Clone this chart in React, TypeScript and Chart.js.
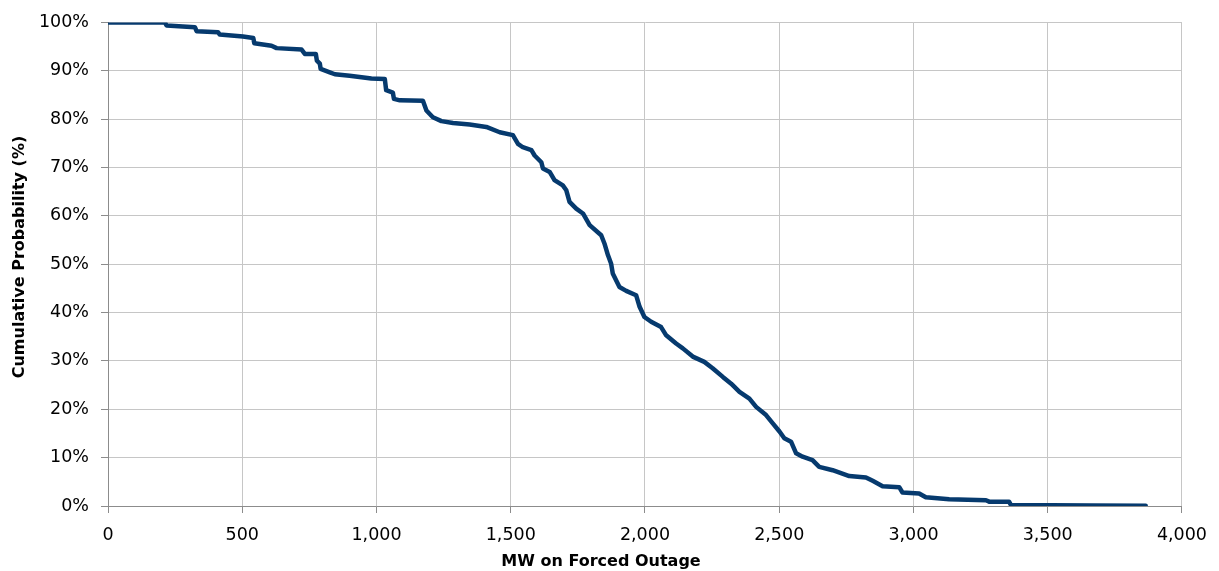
import React, { useEffect, useRef } from "react";
import { Chart, registerables } from "chart.js";

Chart.register(...registerables);

// MW on forced outage (x) and cumulative probability in % (y)
const mwValues = [
  0, 212, 218, 324, 330, 410, 416, 503, 541, 545, 609, 628, 721, 733, 774, 778, 789, 792,
  826, 845, 900, 981, 1031, 1036, 1061, 1065, 1087, 1173, 1186, 1210, 1242, 1285, 1347,
  1409, 1459, 1508, 1527, 1545, 1577, 1589, 1614, 1620, 1645, 1663, 1694, 1707, 1719,
  1744, 1769, 1794, 1837, 1849, 1862, 1874, 1880, 1905, 1930, 1967, 1980, 1998, 2023,
  2060, 2079, 2116, 2141, 2178, 2221, 2252, 2290, 2321, 2352, 2389, 2414, 2451, 2476,
  2501, 2519, 2544, 2563, 2587, 2624, 2649, 2699, 2761, 2823, 2848, 2885, 2947, 2959,
  3021, 3046, 3133, 3270, 3282, 3356, 3363, 3665, 3865,
];
const probValues = [
  100, 100, 99.4, 99.0, 98.2, 98.0, 97.5, 97.1, 96.8, 95.7, 95.2, 94.7, 94.4, 93.5, 93.5,
  92.1, 91.5, 90.4, 89.7, 89.3, 89.0, 88.4, 88.3, 86.0, 85.5, 84.2, 83.9, 83.8, 81.8, 80.4,
  79.6, 79.2, 78.9, 78.4, 77.3, 76.7, 74.9, 74.2, 73.6, 72.5, 71.1, 69.8, 69.1, 67.4, 66.3,
  65.3, 62.9, 61.5, 60.5, 58.1, 56.0, 54.3, 51.9, 50.1, 48.1, 45.3, 44.5, 43.6, 41.2, 39.1,
  38.1, 37.0, 35.3, 33.6, 32.6, 30.9, 29.8, 28.5, 26.7, 25.3, 23.6, 22.2, 20.5, 18.8, 17.1,
  15.4, 14.0, 13.3, 10.9, 10.2, 9.5, 8.1, 7.4, 6.2, 5.9, 5.2, 4.1, 3.9, 2.8, 2.6, 1.8, 1.4,
  1.2, 0.9, 0.9, 0.2, 0.1, 0.05,
];

const X_TITLE = "MW on Forced Outage";
const Y_TITLE = "Cumulative Probability (%)";
const X_MIN = 0;
const X_MAX = 4000;
const X_STEP = 500;
const Y_MIN = 0;
const Y_MAX = 100;
const Y_STEP = 10;

const FONT = '"DejaVu Sans", Verdana, sans-serif';

const titlePlugin = {
  id: "axisTitles",
  afterDraw(chart: any) {
    const ctx = chart.ctx;
    ctx.save();
    ctx.font = `bold 16px ${FONT}`;
    ctx.fillStyle = "#000";
    ctx.textAlign = "center";
    ctx.textBaseline = "middle";
    ctx.fillText(X_TITLE, 601, 562);
    ctx.translate(20, 257);
    ctx.rotate(-Math.PI / 2);
    ctx.fillText(Y_TITLE, 0, 0);
    ctx.restore();
  },
};

export default function App() {
  const ref = useRef<HTMLCanvasElement | null>(null);

  useEffect(() => {
    if (!ref.current) return;
    const points = mwValues.map((x, i) => ({ x, y: probValues[i] }));
    const chart = new Chart(ref.current, {
      type: "line",
      data: {
        datasets: [
          {
            data: points,
            borderColor: "#063a6e",
            borderWidth: 4.5,
            pointRadius: 0,
            tension: 0,
            fill: false,
            borderCapStyle: "round",
            borderJoinStyle: "round",
          },
        ],
      },
      options: {
        animation: false,
        responsive: true,
        maintainAspectRatio: false,
        layout: { padding: { top: 22, right: 36, left: 0, bottom: 0 } },
        plugins: { legend: { display: false }, tooltip: { enabled: false } },
        scales: {
          x: {
            type: "linear",
            min: X_MIN,
            max: X_MAX,
            afterFit: (s: any) => {
              s.height = 65;
            },
            ticks: {
              stepSize: X_STEP,
              color: "#000",
              font: { family: FONT, size: 17.5 },
              padding: 12,
              maxRotation: 0,
              callback: (v: any) => Number(v).toLocaleString("en-US"),
            },
            grid: { color: "#c6c6c6", tickColor: "#8c8c8c", tickLength: 7, lineWidth: 1 },
            border: { color: "#8c8c8c", width: 1 },
          },
          y: {
            type: "linear",
            min: Y_MIN,
            max: Y_MAX,
            afterFit: (s: any) => {
              s.width = 108;
            },
            ticks: {
              stepSize: Y_STEP,
              color: "#000",
              font: { family: FONT, size: 17.5 },
              padding: 12,
              callback: (v: any) => `${v}%`,
            },
            grid: { color: "#c6c6c6", tickColor: "#8c8c8c", tickLength: 7, lineWidth: 1 },
            border: { color: "#8c8c8c", width: 1 },
          },
        },
      },
      plugins: [titlePlugin],
    });
    return () => chart.destroy();
  }, []);

  return (
    <div style={{ position: "fixed", left: 0, top: 0, width: 1219, height: 571, background: "#fff" }}>
      <canvas ref={ref} />
    </div>
  );
}
